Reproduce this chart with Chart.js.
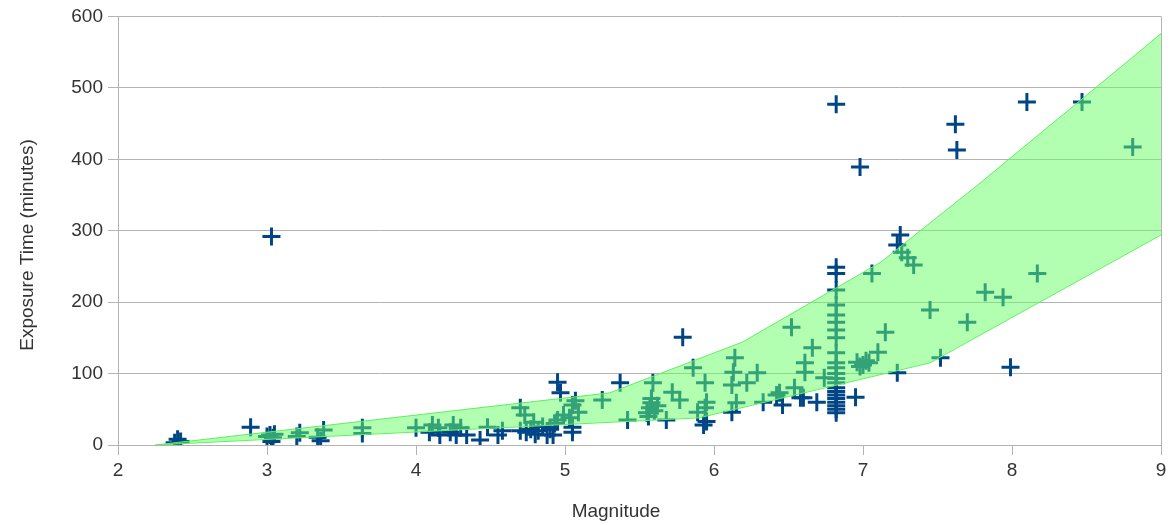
<!DOCTYPE html>
<html>
<head>
<meta charset="utf-8">
<script src="https://cdn.jsdelivr.net/npm/chart.js@4.4.1/dist/chart.umd.min.js"></script>
<style>
html,body{margin:0;padding:0;background:#fff;}
#wrap{width:1173px;height:525px;}
</style>
</head>
<body>
<div id="wrap"><canvas id="c" width="1173" height="525"></canvas></div>
<script>
// Observations: magnitude (x) and exposure time in minutes (y)
const magnitude = [
  2.38, 2.40, 2.42, 2.89, 3.03, 3.00, 3.02, 3.04, 3.05, 3.03,
  3.22, 3.20, 3.34, 3.38, 3.36, 3.64, 3.64, 4.00, 4.09, 4.11,
  4.15, 4.16, 4.23, 4.25, 4.27, 4.30, 4.34, 4.43, 4.48, 4.55,
  4.58, 4.70, 4.73, 4.70, 4.74, 4.77, 4.79, 4.80, 4.82, 4.85,
  4.88, 4.90, 4.92, 4.93, 4.95, 4.97, 4.95, 4.99, 5.05, 5.05,
  5.09, 5.03, 5.05, 5.07, 5.25, 5.37, 5.42, 5.55, 5.57, 5.58,
  5.59, 5.56, 5.60, 5.62, 5.58, 5.68, 5.72, 5.77, 5.79, 5.86,
  5.89, 5.94, 5.95, 5.94, 5.93, 5.95, 6.12, 6.13, 6.14, 6.15,
  6.12, 6.22, 6.29, 6.33, 6.42, 6.44, 6.46, 6.54, 6.52, 6.58,
  6.60, 6.61, 6.61, 6.66, 6.69, 6.74,
  6.82, 6.82, 6.82, 6.82, 6.82, 6.82, 6.82, 6.82, 6.82, 6.82,
  6.82, 6.82, 6.82, 6.82, 6.82, 6.82, 6.82, 6.82, 6.82, 6.82,
  6.82, 6.82, 6.82,
  6.95, 6.96, 6.98, 7.00, 7.02, 7.04, 6.98, 7.06, 7.10, 7.15,
  7.23, 7.25, 7.23, 7.26, 7.30, 7.34, 7.45, 7.52, 7.62, 7.63,
  7.70, 7.82, 7.94, 7.99, 8.10, 8.17, 8.47, 8.81
];
const exposure = [
  3, 8, 5, 25, 292, 12, 14, 10, 15, 5,
  17, 12, 11, 21, 6, 24, 16, 24, 18, 28,
  24, 14, 18, 28, 14, 24, 14, 7, 25, 14,
  20, 52, 42, 20, 18, 22, 32, 15, 20, 26,
  14, 22, 14, 30, 88, 73, 35, 42, 56, 18,
  46, 38, 25, 62, 63, 87, 35, 45, 52, 59,
  87, 40, 48, 55, 65, 35, 74, 63, 151, 108,
  46, 52, 60, 87, 28, 33, 84, 102, 122, 59,
  46, 87, 101, 60, 70, 73, 56, 80, 165, 66,
  66, 115, 102, 136, 60, 94,
  477, 249, 240, 217, 196, 182, 172, 161, 150, 129,
  115, 108, 100, 93, 87, 80, 75, 70, 65, 60,
  55, 50, 45,
  67, 116, 110, 112, 118, 115, 389, 240, 130, 158,
  101, 294, 280, 270, 262, 252, 189, 122, 449, 413,
  172, 214, 207, 109, 480, 240, 480, 417
];
// Shaded band: upper and lower boundaries
const bandUpperX = [2.25, 5.30, 6.19, 7.12, 7.77, 8.77, 9.00];
const bandUpperY = [0, 73, 144, 256, 364, 536, 576];
const bandLowerX = [2.25, 5.90, 7.45, 9.00];
const bandLowerY = [0, 38, 115, 294];
// Axis ticks and titles
const xTicks = [2, 3, 4, 5, 6, 7, 8, 9];
const yTicks = [0, 100, 200, 300, 400, 500, 600];
const xTitle = 'Magnitude';
const yTitle = 'Exposure Time (minutes)';

const points = magnitude.map((m, i) => ({x: m, y: exposure[i]}));
const upper = bandUpperX.map((x, i) => ({x: x, y: bandUpperY[i]}));
const lower = bandLowerX.map((x, i) => ({x: x, y: bandLowerY[i]}));

const FONT = '"Liberation Sans", Arial, sans-serif';
const GRID = '#b3b3b3';
const TXT = '#333333';

// Axis titles placed as in the original layout
const axisTitles = {
  id: 'axisTitles',
  afterDraw(chart) {
    const ctx = chart.ctx;
    ctx.save();
    ctx.fillStyle = TXT;
    ctx.font = '19px ' + FONT;
    ctx.textAlign = 'center';
    ctx.textBaseline = 'middle';
    ctx.fillText(xTitle, 616, 512);
    ctx.translate(28, 245);
    ctx.rotate(-Math.PI / 2);
    ctx.fillText(yTitle, 0, 0);
    ctx.restore();
  }
};

new Chart(document.getElementById('c'), {
  type: 'scatter',
  data: {
    datasets: [
      {
        type: 'line', label: 'upper', data: upper,
        borderColor: '#5fef5f', borderWidth: 1,
        backgroundColor: 'rgba(102,255,102,0.5)',
        fill: '+1', pointRadius: 0, tension: 0, order: 0
      },
      {
        type: 'line', label: 'lower', data: lower,
        borderColor: '#5fef5f', borderWidth: 1,
        fill: false, pointRadius: 0, tension: 0, order: 0
      },
      {
        label: 'Exposure', data: points,
        pointStyle: 'cross', pointRadius: 9, pointHoverRadius: 9,
        borderColor: '#004586', backgroundColor: '#004586',
        borderWidth: 3, order: 1
      }
    ]
  },
  plugins: [axisTitles],
  options: {
    responsive: false,
    animation: false,
    devicePixelRatio: 1,
    layout: {padding: {top: 16, right: 12, left: 0, bottom: 0}},
    plugins: {legend: {display: false}, tooltip: {enabled: false}},
    scales: {
      x: {
        type: 'linear', min: xTicks[0], max: xTicks[xTicks.length - 1],
        afterBuildTicks: s => { s.ticks = xTicks.map(v => ({value: v})); },
        afterFit: s => { s.height = 80; },
        ticks: {font: {family: FONT, size: 19}, color: TXT, padding: 4},
        grid: {
          color: c => (c.tick && (c.tick.value === 2 || c.tick.value === 9)) ? GRID : 'rgba(0,0,0,0)',
          tickColor: GRID, tickLength: 10, lineWidth: 1
        },
        border: {display: true, color: GRID},
        title: {display: false}
      },
      y: {
        type: 'linear', min: yTicks[0], max: yTicks[yTicks.length - 1],
        afterBuildTicks: s => { s.ticks = yTicks.map(v => ({value: v})); },
        afterFit: s => { s.width = 118; },
        ticks: {font: {family: FONT, size: 19}, color: TXT, padding: 5},
        grid: {color: GRID, tickColor: GRID, tickLength: 10, lineWidth: 1},
        border: {display: true, color: GRID},
        title: {display: false}
      }
    }
  }
});
</script>
</body>
</html>
